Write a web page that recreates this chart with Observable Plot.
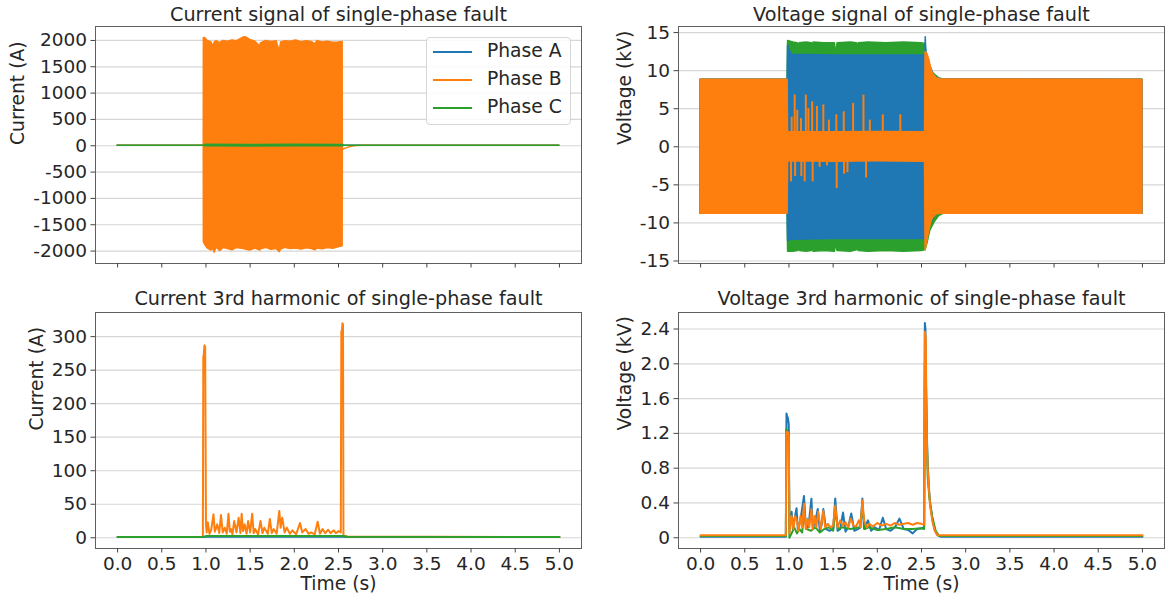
<!DOCTYPE html>
<html><head><meta charset="utf-8">
<script src="https://cdn.jsdelivr.net/npm/d3@7"></script>
<script src="https://cdn.jsdelivr.net/npm/@observablehq/plot@0.6"></script>
<style>
body{margin:0;background:#fff;}
#wrap{position:relative;width:1173px;height:601px;font-family:"DejaVu Sans",sans-serif;overflow:hidden;}
.panel{position:absolute;}
.legend{position:absolute;left:426px;top:37px;width:145px;height:88px;box-sizing:border-box;border:1px solid #d6d6d6;border-radius:4px;background:rgba(255,255,255,0.85);font:18.7px "DejaVu Sans";color:#262626;}
.legend .ln{position:absolute;left:6px;width:39px;height:2px;}
.legend .tx{position:absolute;left:60px;line-height:22px;white-space:nowrap;}
</style></head><body><div id="wrap"></div>
<script>
// ---------- labels & ticks ----------
const phases = ["Phase A", "Phase B", "Phase C"];
const phaseColors = ["#1f77b4", "#ff7f0e", "#2ca02c"];
const titles = ["Current signal of single-phase fault", "Voltage signal of single-phase fault",
                "Current 3rd harmonic of single-phase fault", "Voltage 3rd harmonic of single-phase fault"];
const yLabels = ["Current (A)", "Voltage (kV)", "Current (A)", "Voltage (kV)"];
const xLabel = "Time (s)";
const xTicks = [0, 0.5, 1, 1.5, 2, 2.5, 3, 3.5, 4, 4.5, 5];
const curTicks = [-2000, -1500, -1000, -500, 0, 500, 1000, 1500, 2000];
const voltTicks = [-15, -10, -5, 0, 5, 10, 15];
const curHTicks = [0, 50, 100, 150, 200, 250, 300];
const voltHTicks = [0, 0.4, 0.8, 1.2, 1.6, 2.0, 2.4];

// ---------- Current signal (envelopes of the dense waveform) ----------
const curA_t  = [0, 0.98, 0.99, 2.55, 2.56, 5.0];
const curA_lo = [0, 0, -10, -10, 0, 0];
const curA_hi = [0, 0, 10, 10, 0, 0];

const curB_t  = [0, 0.975, 0.976, 0.99, 1.02, 1.06, 1.087, 1.098, 1.12, 1.16, 1.2, 1.25, 1.3, 1.35, 1.43, 1.46, 1.5, 1.56, 1.616, 1.62, 1.68, 1.74, 1.8, 1.835, 1.85, 1.9, 1.96, 2.02, 2.08, 2.14, 2.2, 2.24, 2.26, 2.32, 2.38, 2.44, 2.5, 2.547, 2.549, 2.56, 2.6, 2.65, 2.7, 2.75, 5.0];
const curB_hi = [2, 2, 2040, 2045, 1990, 1965, 1880, 1960, 1985, 1950, 1990, 1975, 2000, 1985, 2060, 2055, 2010, 1975, 1880, 1945, 1990, 1970, 1985, 1785, 1960, 1985, 1975, 2000, 1965, 1985, 1970, 1925, 1990, 1960, 1975, 1955, 1960, 1970, -85, -70, -45, -20, -5, 0, 0];
const curB_lo = [2, 2, -1830, -1880, -1950, -1990, -1960, -2030, -1930, -2000, -1940, -1960, -1985, -1940, -1960, -1975, -1990, -1950, -1990, -1965, -1940, -1975, -1960, -2020, -1970, -1940, -1960, -1950, -1970, -1945, -1960, -1985, -1950, -1965, -1940, -1955, -1930, -1910, -85, -70, -45, -20, -5, 0, 0];

const curC_t  = [0, 0.98, 0.99, 1.5, 2.0, 2.55, 2.56, 5.0];
const curC_lo = [0, 0, -10, -12, -10, -10, 0, 0];
const curC_hi = [2, 2, 18, 16, 18, 16, 2, 2];

// ---------- Voltage signal ----------
const volA_t  = [0, 0.985, 0.99, 1.01, 1.03, 1.5, 2.0, 2.544, 2.548, 2.556, 2.6, 2.65, 2.7, 5.0];
const volA_hi = [8.8, 8.8, 13.3, 12.6, 12.1, 12.0, 12.0, 12.0, 14.4, 12.0, 10.6, 9.2, 8.85, 8.8];
const volA_lo = [-8.8, -8.8, -12.4, -12.3, -12.2, -12.1, -12.1, -12.1, -12.5, -11.6, -10.2, -9.1, -8.8, -8.8];

const volB_t  = [0, 0.985, 0.99, 1.5, 2.0, 2.54, 2.546, 2.567, 2.588, 2.61, 2.63, 2.67, 2.71, 5.0];
const volB_hi = [8.8, 8.8, 1.95, 1.9, 1.95, 1.9, 12.45, 12.2, 11.4, 10.3, 9.6, 9.0, 8.85, 8.8];
const volB_lo = [-8.8, -8.8, -1.9, -1.95, -1.9, -1.95, -13.6, -12.3, -11.0, -9.9, -9.35, -8.9, -8.8, -8.8];
const volB_spikeT = [1.031, 1.065, 1.094, 1.136, 1.191, 1.22, 1.263, 1.317, 1.389, 1.452, 1.536, 1.62, 1.726, 1.843, 1.915, 2.062, 2.26,
                     1.023, 1.07, 1.14, 1.178, 1.268, 1.347, 1.431, 1.54, 1.624, 1.662, 1.873];
const volB_spikeV = [3.9, 6.8, 4.8, 3.7, 6.8, 5.0, 5.9, 5.3, 5.5, 3.5, 4.2, 4.6, 5.7, 6.8, 3.5, 4.2, 4.2,
                     -4.6, -3.9, -3.9, -4.6, -4.6, -2.7, -2.5, -5.5, -3.6, -3.4, -4.1];

const volC_t  = [0, 0.985, 0.99, 1.05, 1.1, 1.11, 1.12, 1.2, 1.26, 1.27, 1.28, 1.4, 1.52, 1.535, 1.55, 1.7, 1.77, 1.78, 1.79, 1.9, 2.1, 2.3, 2.5, 2.545, 2.565, 2.6, 2.65, 2.7, 2.75, 5.0];
const volC_hi = [8.8, 8.8, 13.9, 13.7, 13.6, 12.8, 13.6, 13.7, 13.6, 13.0, 13.7, 13.6, 13.6, 12.1, 13.6, 13.7, 13.6, 12.8, 13.6, 13.7, 13.6, 13.7, 13.6, 13.5, 11.5, 10.0, 9.5, 9.0, 8.8, 8.8];
const volC_lo = [-8.8, -8.8, -13.8, -13.8, -13.7, -12.5, -13.7, -13.8, -13.7, -12.4, -13.8, -13.7, -13.8, -12.8, -13.7, -13.8, -13.6, -13.0, -13.7, -13.8, -13.7, -13.8, -13.7, -13.6, -12.8, -11.0, -9.9, -9.1, -8.8, -8.8];

// ---------- Current 3rd harmonic ----------
const curHA_t = [0, 0.97, 1.0, 2.55, 2.6, 5.0];
const curHA_v = [1, 1, 1.5, 1.5, 1, 1];
const curHB_t = [0, 0.965, 0.970, 0.975, 0.983, 0.991, 1.0, 1.008, 1.021, 1.04, 1.06, 1.085, 1.1, 1.128, 1.15, 1.170, 1.19, 1.213, 1.235, 1.255, 1.27, 1.285, 1.30, 1.319, 1.345, 1.370, 1.39, 1.404, 1.42, 1.438, 1.46, 1.477, 1.50, 1.523, 1.54, 1.557, 1.59, 1.617, 1.64, 1.660, 1.70, 1.723, 1.745, 1.766, 1.80, 1.830, 1.845, 1.864, 1.89, 1.915, 1.95, 1.979, 2.02, 2.064, 2.09, 2.128, 2.16, 2.191, 2.23, 2.264, 2.29, 2.319, 2.35, 2.383, 2.41, 2.447, 2.47, 2.502, 2.526, 2.532, 2.537, 2.545, 2.551, 2.556, 2.6, 5.0];
const curHB_v = [1, 1, 270, 272, 287, 285, 20, 8, 23, 6, 12, 35, 9, 20, 7, 34, 8, 15, 6, 36, 9, 13, 5, 25, 8, 30, 7, 36, 10, 20, 6, 25, 8, 36, 7, 13, 5, 25, 7, 15, 6, 28, 7, 13, 6, 40, 15, 30, 8, 15, 6, 11, 5, 22, 8, 13, 6, 8, 5, 24, 6, 13, 7, 12, 7, 11, 7, 10, 8, 308, 306, 320, 318, 3, 2, 1];
const curHC_t = [0, 0.97, 1.0, 2.55, 2.6, 5.0];
const curHC_v = [1.2, 1.2, 2.5, 2.5, 1.5, 1.2];

// ---------- Voltage 3rd harmonic ----------
const volHA_t = [0, 0.965, 0.972, 0.98, 0.99, 0.998, 1.005, 1.015, 1.03, 1.045, 1.06, 1.086, 1.10, 1.13, 1.17, 1.19, 1.22, 1.254, 1.27, 1.30, 1.326, 1.35, 1.37, 1.389, 1.42, 1.46, 1.50, 1.524, 1.55, 1.58, 1.612, 1.64, 1.67, 1.705, 1.74, 1.78, 1.81, 1.831, 1.85, 1.894, 1.93, 1.97, 2.02, 2.062, 2.10, 2.15, 2.20, 2.25, 2.30, 2.35, 2.40, 2.45, 2.50, 2.53, 2.538, 2.545, 2.552, 2.56, 2.57, 2.585, 2.6, 2.625, 2.65, 2.68, 2.72, 5.0];
const volHA_v = [0.012, 0.012, 1.43, 1.40, 1.37, 1.30, 0.1, 0.2, 0.30, 0.1, 0.2, 0.34, 0.1, 0.2, 0.48, 0.15, 0.12, 0.45, 0.1, 0.2, 0.33, 0.08, 0.15, 0.33, 0.1, 0.08, 0.1, 0.45, 0.08, 0.1, 0.29, 0.07, 0.12, 0.28, 0.08, 0.1, 0.12, 0.45, 0.1, 0.2, 0.08, 0.12, 0.09, 0.23, 0.1, 0.08, 0.12, 0.22, 0.1, 0.09, 0.05, 0.1, 0.11, 0.12, 2.47, 2.4, 1.7, 1.2, 0.85, 0.55, 0.38, 0.2, 0.09, 0.03, 0.012, 0.012];
const volHB_t = [0, 0.965, 0.970, 0.975, 0.99, 0.998, 1.005, 1.02, 1.03, 1.05, 1.07, 1.09, 1.11, 1.13, 1.15, 1.17, 1.19, 1.21, 1.23, 1.254, 1.27, 1.29, 1.31, 1.33, 1.36, 1.389, 1.41, 1.44, 1.47, 1.50, 1.524, 1.55, 1.58, 1.61, 1.64, 1.67, 1.70, 1.73, 1.76, 1.79, 1.81, 1.831, 1.85, 1.88, 1.91, 1.95, 2.0, 2.05, 2.1, 2.15, 2.2, 2.25, 2.3, 2.35, 2.4, 2.45, 2.5, 2.53, 2.538, 2.548, 2.555, 2.562, 2.57, 2.585, 2.6, 2.625, 2.65, 2.68, 2.71, 5.0];
const volHB_v = [0.028, 0.028, 1.2, 1.22, 1.21, 1.15, 0.05, 0.2, 0.25, 0.1, 0.25, 0.2, 0.08, 0.25, 0.12, 0.39, 0.1, 0.22, 0.12, 0.33, 0.1, 0.25, 0.12, 0.3, 0.1, 0.31, 0.12, 0.16, 0.12, 0.14, 0.37, 0.12, 0.2, 0.14, 0.18, 0.12, 0.22, 0.14, 0.13, 0.2, 0.12, 0.43, 0.2, 0.12, 0.16, 0.13, 0.17, 0.14, 0.16, 0.14, 0.17, 0.15, 0.16, 0.17, 0.15, 0.17, 0.16, 0.15, 2.37, 2.3, 1.6, 1.0, 0.8, 0.55, 0.35, 0.18, 0.08, 0.03, 0.028, 0.028];
const volHC_t = [0, 0.965, 0.970, 0.99, 0.998, 1.005, 1.03, 1.06, 1.09, 1.12, 1.15, 1.17, 1.2, 1.25, 1.3, 1.35, 1.4, 1.45, 1.5, 1.524, 1.56, 1.6, 1.7, 1.8, 1.831, 1.86, 1.9, 2.0, 2.1, 2.2, 2.3, 2.4, 2.5, 2.53, 2.538, 2.548, 2.56, 2.57, 2.59, 2.62, 2.66, 2.7, 5.0];
const volHC_v = [0.02, 0.02, 1.25, 1.2, 1.1, 0.0, 0.05, 0.12, 0.05, 0.1, 0.06, 0.3, 0.1, 0.08, 0.12, 0.06, 0.1, 0.12, 0.08, 0.3, 0.1, 0.12, 0.1, 0.12, 0.35, 0.1, 0.12, 0.09, 0.1, 0.12, 0.1, 0.1, 0.11, 0.1, 2.0, 1.9, 1.2, 0.7, 0.45, 0.25, 0.08, 0.02, 0.02];

// ---------- helpers ----------
const band = (t, lo, hi) => t.map((x, i) => ({t: x, lo: lo[i], hi: hi[i]}));
const series = (t, v) => t.map((x, i) => ({t: x, v: v[i]}));
const FONT = "DejaVu Sans";
const TXT = "#262626";

function bandMark(data, color) {
  return Plot.areaY(data, {x: "t", y1: "lo", y2: "hi", fill: color, stroke: color, strokeWidth: 1.5, strokeLinejoin: "round"});
}
function lineMark(data, color) {
  return Plot.line(data, {x: "t", y: "v", stroke: color, strokeWidth: 2, strokeLinejoin: "round"});
}

function panel(o) {
  const svg = Plot.plot({
    width: o.width, height: o.height,
    marginTop: o.mt, marginBottom: o.mb, marginLeft: o.ml, marginRight: o.mr,
    x: {domain: [-0.25, 5.25]},
    y: {domain: o.yDomain},
    style: {fontFamily: FONT, fontSize: "18.5px", color: TXT, background: "transparent", overflow: "visible"},
    marks: [
      Plot.gridY(o.yTicks, {stroke: "#d6d6d6", strokeOpacity: 1, strokeWidth: 1.2}),
      ...o.marks,
      Plot.frame({stroke: "#5f5f5f", strokeWidth: 1}),
      Plot.axisY(o.yTicks, {tickSize: 4.5, tickPadding: 4, tickFormat: o.yFmt, label: null, stroke: "#444", fill: TXT, fontSize: 18.5}),
      Plot.axisX(xTicks, {tickSize: 4.5, tickPadding: 4, tickFormat: o.showX ? (d => d.toFixed(1)) : (() => ""), label: null, stroke: "#444", fill: TXT, fontSize: 18.5}),
      Plot.text([o.title], {text: d => d, frameAnchor: "top", dy: o.titleDy, lineAnchor: "middle", fontSize: 19.2, fill: TXT}),
      Plot.text([o.ylabel], {text: d => d, frameAnchor: "left", dx: o.ylabelDx, rotate: -90, lineAnchor: "middle", fontSize: 18.7, fill: TXT}),
      ...(o.showX ? [Plot.text([xLabel], {text: d => d, frameAnchor: "bottom", dy: 35.3, lineAnchor: "middle", fontSize: 18.7, fill: TXT})] : [])
    ]
  });
  svg.classList.add("panel");
  svg.style.left = o.left + "px";
  svg.style.top = o.top + "px";
  return svg;
}

const wrap = document.getElementById("wrap");
const plain = d => String(d);

// Top-left: current signal
wrap.appendChild(panel({
  left: 0, top: 0, width: 590, height: 290, mt: 26, mb: 27, ml: 95, mr: 9,
  yDomain: [-2236, 2265], yTicks: curTicks, yFmt: plain, showX: false,
  title: titles[0], titleDy: -12, ylabel: yLabels[0], ylabelDx: -77.7,
  marks: [
    bandMark(band(curA_t, curA_lo, curA_hi), phaseColors[0]),
    bandMark(band(curB_t, curB_lo, curB_hi), phaseColors[1]),
    bandMark(band(curC_t, curC_lo, curC_hi), phaseColors[2])
  ]
}));

// Top-right: voltage signal
const volSpikes = volB_spikeT.map((t, i) => ({t, v: volB_spikeV[i]}));
wrap.appendChild(panel({
  left: 590, top: 0, width: 583, height: 290, mt: 26, mb: 27, ml: 88, mr: 9,
  yDomain: [-15.33, 15.8], yTicks: voltTicks, yFmt: plain, showX: false,
  title: titles[1], titleDy: -12, ylabel: yLabels[1], ylabelDx: -53,
  marks: [
    bandMark(band(volC_t, volC_lo, volC_hi), phaseColors[2]),
    bandMark(band(volA_t, volA_lo, volA_hi), phaseColors[0]),
    bandMark(band(volB_t, volB_lo, volB_hi), phaseColors[1]),
    Plot.ruleX(volSpikes, {x: "t", y1: 0, y2: "v", stroke: phaseColors[1], strokeWidth: 2})
  ]
}));

// Bottom-left: current 3rd harmonic
wrap.appendChild(panel({
  left: 0, top: 290, width: 590, height: 311, mt: 22, mb: 53, ml: 95, mr: 9,
  yDomain: [-16, 336], yTicks: curHTicks, yFmt: plain, showX: true,
  title: titles[2], titleDy: -13.7, ylabel: yLabels[2], ylabelDx: -58.3,
  marks: [
    lineMark(series(curHA_t, curHA_v), phaseColors[0]),
    lineMark(series(curHB_t, curHB_v), phaseColors[1]),
    lineMark(series(curHC_t, curHC_v), phaseColors[2])
  ]
}));

// Bottom-right: voltage 3rd harmonic
wrap.appendChild(panel({
  left: 590, top: 290, width: 583, height: 311, mt: 22, mb: 53, ml: 88, mr: 9,
  yDomain: [-0.1235, 2.59], yTicks: voltHTicks, yFmt: d => d === 0 ? "0" : d.toFixed(1), showX: true,
  title: titles[3], titleDy: -13.7, ylabel: yLabels[3], ylabelDx: -53,
  marks: [
    lineMark(series(volHA_t, volHA_v), phaseColors[0]),
    lineMark(series(volHC_t, volHC_v), phaseColors[2]),
    lineMark(series(volHB_t, volHB_v), phaseColors[1])
  ]
}));

// Legend (top-left panel)
const lg = document.createElement("div");
lg.className = "legend";
const rows = [14, 42, 69.7];
phases.forEach((name, i) => {
  const ln = document.createElement("div");
  ln.className = "ln";
  ln.style.top = (rows[i] - 1) + "px";
  ln.style.background = phaseColors[i];
  const tx = document.createElement("div");
  tx.className = "tx";
  tx.style.top = (rows[i] - 12) + "px";
  tx.textContent = name;
  lg.appendChild(ln);
  lg.appendChild(tx);
});
wrap.appendChild(lg);
</script>
</body></html>
